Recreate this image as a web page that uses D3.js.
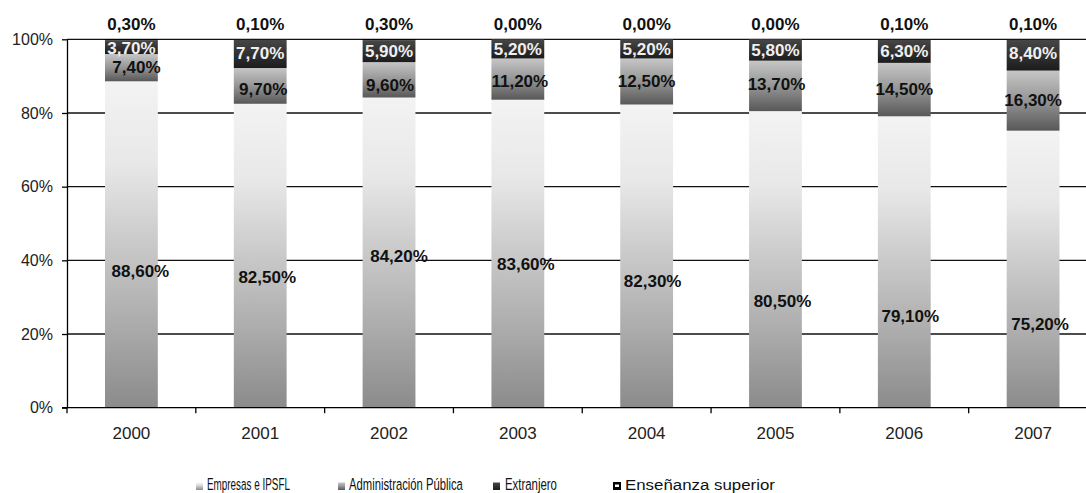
<!DOCTYPE html>
<html>
<head>
<meta charset="utf-8">
<script src="https://cdn.jsdelivr.net/npm/d3@7/dist/d3.min.js"></script>
<style>
  html, body { margin: 0; padding: 0; background: #fff; }
  svg { display: block; }
</style>
</head>
<body>
<svg id="chart" width="1086" height="493"></svg>
<script>
// Funding of R&D spending by source, share of total per year (%)
const years = ["2000", "2001", "2002", "2003", "2004", "2005", "2006", "2007"];
const empresas = [88.6, 82.5, 84.2, 83.6, 82.3, 80.5, 79.1, 75.2];
const administracion = [7.4, 9.7, 9.6, 11.2, 12.5, 13.7, 14.5, 16.3];
const extranjero = [3.7, 7.7, 5.9, 5.2, 5.2, 5.8, 6.3, 8.4];
const ensenanza = [0.3, 0.1, 0.3, 0.0, 0.0, 0.0, 0.1, 0.1];
const seriesNames = ["Empresas e IPSFL", "Administración Pública", "Extranjero", "Enseñanza superior"];
const yTicks = [0, 20, 40, 60, 80, 100];

// Hand-placed label offsets (px) for the inner value labels
const labelShift = {
  "Empresas e IPSFL":      { dx: [9, 7, 10, 8, 6, 7, 6, 7], dy: [26, 21, 3, 10, 25, 41, 54, 55] },
  "Administración Pública": { dx: [5, 3, 1, 2, 0, 1, 0, 0], dy: [-1, 3, 5, 2, -1, -2, -1, -1] },
  "Extranjero":            { dx: [0, 0, 0, 0, 0, 0, 0, 0], dy: [1, -1, 0, 0, 0, 0, 0, -2] }
};

const svg = d3.select("#chart");

const rows = years.map((yr, i) => ({
  year: yr,
  [seriesNames[0]]: empresas[i],
  [seriesNames[1]]: administracion[i],
  [seriesNames[2]]: extranjero[i],
  [seriesNames[3]]: ensenanza[i]
}));
const stacked = d3.stack().keys(seriesNames)(rows);

const x = d3.scaleBand().domain(years).range([67, 1097.5]).paddingInner(0.59).paddingOuter(0.295);
const y = d3.scaleLinear().domain([0, 100]).range([407.7, 39.3]);

// Vertical gradients for the segments
const defs = svg.append("defs");
const gradients = [
  { id: "g-emp", stops: [[0, "#f3f3f3"], [0.25, "#e8e8e8"], [0.5, "#c9c9c9"], [0.75, "#ababab"], [1, "#8b8b8b"]] },
  { id: "g-adm", stops: [[0, "#c6c6c6"], [0.5, "#959595"], [1, "#585858"]] },
  { id: "g-ext", stops: [[0, "#474747"], [1, "#1c1c1c"]] },
  { id: "g-ens", stops: [[0, "#000"], [1, "#000"]] }
];
gradients.forEach(g => {
  const lg = defs.append("linearGradient").attr("id", g.id)
    .attr("x1", 0).attr("y1", 0).attr("x2", 0).attr("y2", 1);
  g.stops.forEach(s => lg.append("stop").attr("offset", s[0]).attr("stop-color", s[1]));
});
const fillOf = d3.scaleOrdinal().domain(seriesNames).range(gradients.map(g => `url(#${g.id})`));

// Gridlines
svg.append("g")
  .selectAll("line")
  .data(yTicks.filter(t => t > 0))
  .join("line")
  .attr("x1", 67).attr("x2", 1097.5)
  .attr("y1", d => y(d)).attr("y2", d => y(d))
  .attr("stroke", "#111").attr("stroke-width", 1.3);

// Bars
svg.append("g")
  .selectAll("g")
  .data(stacked)
  .join("g")
  .attr("fill", d => fillOf(d.key))
  .selectAll("rect")
  .data(d => d)
  .join("rect")
  .attr("x", d => x(d.data.year))
  .attr("width", x.bandwidth())
  .attr("y", d => y(d[1]))
  .attr("height", d => Math.max(0, y(d[0]) - y(d[1])));

// Y axis
const yAxis = svg.append("g")
  .attr("transform", "translate(67,0)")
  .call(d3.axisLeft(y).tickValues(yTicks).tickFormat(d => d + "%").tickSize(5).tickSizeOuter(0).tickPadding(9));
yAxis.select(".domain").attr("stroke", "#000").attr("stroke-width", 1.3);
yAxis.selectAll(".tick line").attr("stroke", "#000").attr("stroke-width", 1.3);
yAxis.selectAll(".tick text")
  .attr("font-family", "'Liberation Sans', Arial, sans-serif")
  .attr("font-size", 16).attr("fill", "#222");

// X axis: baseline, separator ticks, year labels
const step = x.step();
const x0 = x.range()[0];
svg.append("line")
  .attr("x1", 62).attr("x2", 1097.5)
  .attr("y1", y(0)).attr("y2", y(0))
  .attr("stroke", "#000").attr("stroke-width", 1.3);
svg.append("g")
  .selectAll("line")
  .data(d3.range(years.length + 1))
  .join("line")
  .attr("x1", i => x0 + i * step).attr("x2", i => x0 + i * step)
  .attr("y1", y(0)).attr("y2", y(0) + 5.5)
  .attr("stroke", "#000").attr("stroke-width", 1.3);
svg.append("g")
  .selectAll("text")
  .data(years)
  .join("text")
  .attr("x", d => x(d) + x.bandwidth() / 2)
  .attr("y", 439)
  .attr("text-anchor", "middle")
  .attr("font-family", "'Liberation Sans', Arial, sans-serif")
  .attr("font-size", 17).attr("fill", "#222")
  .text(d => d);

// Value labels
const fmt = v => v.toFixed(2).replace(".", ",") + "%";
const labels = svg.append("g")
  .attr("font-family", "'Liberation Sans', Arial, sans-serif")
  .attr("font-size", 17).attr("font-weight", "bold")
  .attr("text-anchor", "middle");

stacked.forEach(layer => {
  const key = layer.key;
  layer.forEach((d, i) => {
    const cx = x(d.data.year) + x.bandwidth() / 2;
    const v = d.data[key];
    if (key === "Enseñanza superior") {
      labels.append("text")
        .attr("x", cx).attr("y", 30)
        .attr("fill", "#111")
        .text(fmt(v));
    } else {
      const sh = labelShift[key];
      labels.append("text")
        .attr("x", cx + sh.dx[i])
        .attr("y", (y(d[0]) + y(d[1])) / 2 + sh.dy[i])
        .attr("dy", "0.36em")
        .attr("fill", key === "Extranjero" ? "#efefef" : "#111")
        .text(fmt(v));
    }
  });
});

// Legend (condensed text: squeezed horizontally to the target width)
const legendItems = [
  { name: seriesNames[0], sx: 196, tx: 207, w: 83, fs: 16.5 },
  { name: seriesNames[1], sx: 338, tx: 349, w: 114, fs: 16.5 },
  { name: seriesNames[2], sx: 493, tx: 505, w: 52, fs: 16.5 },
  { name: seriesNames[3], sx: 613, tx: 625, w: 150, fs: 15.5 }
];
const legend = svg.append("g");
legendItems.forEach((it, i) => {
  if (i === 3) {
    legend.append("rect").attr("x", it.sx).attr("y", 482).attr("width", 8).attr("height", 8).attr("fill", "#000");
    legend.append("rect").attr("x", it.sx + 2).attr("y", 484.5).attr("width", 4).attr("height", 2.5).attr("fill", "#fff");
  } else {
    legend.append("rect").attr("x", it.sx).attr("y", 482.5).attr("width", 7).attr("height", 7.5).attr("fill", fillOf(it.name));
  }
  const t = legend.append("text")
    .attr("x", 0).attr("y", 0)
    .attr("font-family", "'Liberation Sans', Arial, sans-serif")
    .attr("font-size", it.fs).attr("fill", "#111")
    .text(it.name);
  const len = t.node().getComputedTextLength();
  t.attr("transform", `translate(${it.tx},489.5) scale(${it.w / len},1)`);
});
</script>
</body>
</html>
